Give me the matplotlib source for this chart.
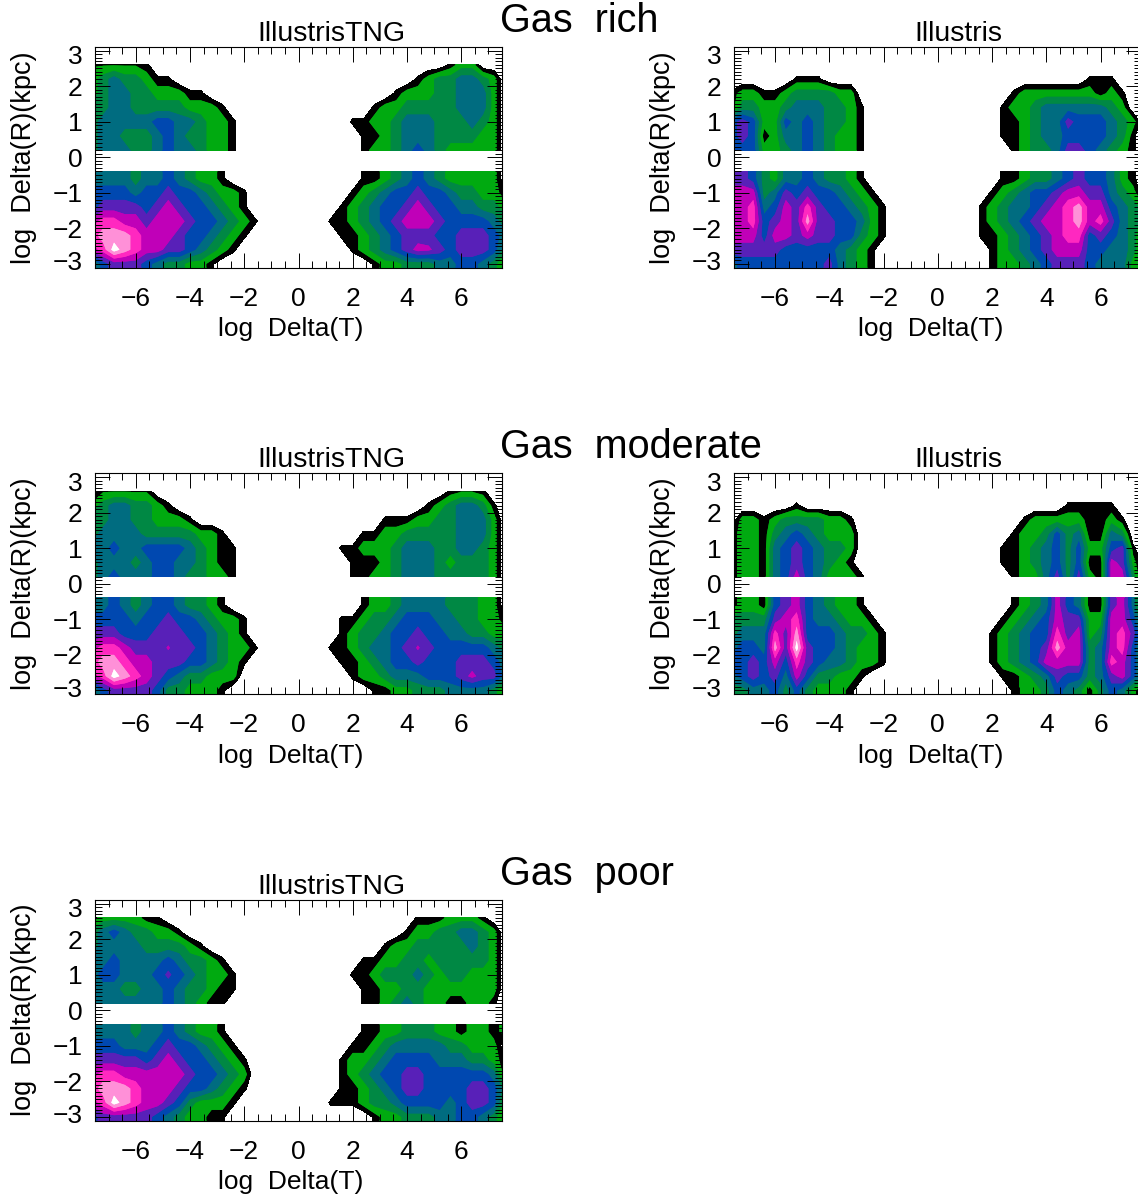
import numpy as np
import matplotlib
matplotlib.use("Agg")
import matplotlib.pyplot as plt
from matplotlib.ticker import MultipleLocator
from matplotlib.transforms import ScaledTranslation

# grid of the binned maps, values are contour band numbers
# 0 empty, 1 black, 2 green, 3 dark green, 4 teal, 5 blue, 6 purple, 7 magenta, 8 hot pink, 9 light pink, 10 white
dt_neg = [-7.6, -7.2, -6.8, -6.4, -6.0, -5.6, -5.2, -4.8, -4.4, -4.0, -3.6, -3.2, -2.8, -2.4, -2.0, -1.6, -1.2]
dt_pos = [1.2, 1.6, 2.0, 2.4, 2.8, 3.2, 3.6, 4.0, 4.4, 4.8, 5.2, 5.6, 6.0, 6.4, 6.8, 7.2, 7.6]
dr_top = [2.6, 2.2, 1.8, 1.4, 1.0, 0.6, 0.2]
dr_bot = [-0.6, -1.0, -1.4, -1.8, -2.2, -2.6, -3.0]

tng_rich_neg = [
    [1.4,1.4,1.4,1.4,1.4,1,0,0,0,0,0,0,0,0,0,0,0],
    [2,3,4,3,3,2,1,1,0,0,0,0,0,0,0,0,0],
    [2,3,4,4,3,3,2,2,2,1,1,0,0,0,0,0,0],
    [3,3,4,4,3,3,3,3,3,2,2,2,1,0,0,0,0],
    [3,4,4,4,4,4,5,5,4,4,3,2,2,1,0,0,0],
    [3,4,4,3,3,3,4,5,4,3,3,2,2,1,0,0,0],
    [3,4,4,4,3,3,4,5,4,4,3,2,2,1,0,0,0],
    [4,4,4,4,3,4,4,5,4,3,2,2,1,0,0,0,0],
    [5,5,5,5,4,5,5,6,5,5,4,3,2,2,1,0,0],
    [5,6,6,6,6,5,6,7,6,5,5,4,3,2,1,0,0],
    [7,8,8,7,7,6,7,7,7,6,5,5,4,3,2,1,0],
    [8,9,9,9,8,7,7,7,6,5,5,4,3,2,1,0,0],
    [7,8,10,9,8,7,7,6,6,5,4,3,2,1,0,0,0],
    [3,5,6,6,6,5,4,3,3,2,2,1,0,0,0,0,0],
]
tng_rich_pos = [
    [0,0,0,0,0,0,0,0,0,0,0,1,2,2,0,0,0],
    [0,0,0,0,0,0,0,0,1,2,3,3,4,4,3,2,0],
    [0,0,0,0,0,0,1,2,2,2,3,3,4,4,4,2,0],
    [0,0,0,0,1,2,2,3,3,3,3,3,4,4,4,2,0],
    [0,0,1,1,2,2,3,4,4,4,3,3,3,4,3,2,0],
    [0,0,0,1,1,2,3,4,4,4,3,3,3,3,2,2,0],
    [0,0,0,1,2,2,3,4,5,4,3,2,2,2,2,2,0],
    [0,0,0,1,1,2,3,4,5,4,3,2,2,2,2,2,0],
    [0,0,1,2,3,4,5,5,6,5,5,4,3,3,2,2,1],
    [0,1,2,3,4,5,5,6,7,6,5,5,4,4,3,3,2],
    [1,1,2,3,4,5,6,7,7,7,6,5,5,5,5,4,3],
    [0,1,1,2,3,4,5,6,6,6,5,5,6,6,6,5,4],
    [0,0,1,2,3,4,5,6,6.9,6.7,6,5,6,6,6,5,3],
    [0,0,0,0,1,2,2,3,3,3,4,4,5,5,4,3,1],
]

ill_rich_neg = [
    [0,0,0,0,0,0,0,0,0,0,0,0,0,0,0,0,0],
    [0,0,0,0,0,0,1,1,1,0,0,0,0,0,0,0,0],
    [1,2,2,1,1,2,3,3,3,3,2,2,0,0,0,0,0],
    [1,3,3,2,2,3,4,4,4,3,3,2,1,0,0,0,0],
    [5,6,5,2,2,5,4,5,4,3,3,2,1,0,0,0,0],
    [5,6,5,1,2,4,4,5,4,3,2,2,1,0,0,0,0],
    [5,5,5,2,2,3,4,5,4,3,2,2,1,0,0,0,0],
    [6,6,5,3,2,4,4,5,4,3,3,2,1,0,0,0,0],
    [7,7,7,3,4,6,5,6,5,5,4,3,2,1,0,0,0],
    [7,7,8,4,5,7,6,8,6,5,5,4,3,2,1,0,0],
    [7,7,8,5,6,7,6,9,6,6,5,5,4,2,1,0,0],
    [7,7,7,5,7,7,6,7,6,6,5,5,3,2,1,0,0],
    [6,6,6,6,6,5,5,5,5,5,4,3,2,1,0,0,0],
    [4,5,5,5,5,5,5,5,5,6,4,3,2,1,0,0,0],
]
ill_rich_pos = [
    [0,0,0,0,0,0,0,0,0,0,0,0,0,0,0,0,0],
    [0,0,0,0,0,0,0,0,0,0,0,1,1,1,0,0,0],
    [0,0,0,0,1,2,2,2,2,2,2,2,1,2,1,0,0],
    [0,0,0,1,2,2,3,4,4,4,4,4,4,3,2,0,0],
    [0,0,0,1,1,2,3,4,4,6,5,5,5,4,3,2,0],
    [0,0,0,1,1,2,3,4,4,5,5,5,5,4,3,1,0],
    [0,0,0,0,1,2,3,3,4,6,6,5,4,3,2,1,0],
    [0,0,0,1,1,2,3,3,4,5,6,5,5,4,2,1,0],
    [0,0,1,2,3,4,5,5,6,7,7,6,6,4,3,2,0],
    [0,1,2,3,4,4,5,6,7,8,9,7,7,5,4,3,2],
    [0,1,2,3,4,5,6,7,7,8,9,7,8,6,4,3,2],
    [0,1,1,2,3,4,5,6,7,8,8,5,6,5,4,3,1],
    [0,0,1,2,3,4,5,6,7,7,7,5,5,4,4,3,1],
    [0,0,1,2,2,3,4,5,6,6,6,5,4,4,4,2,1],
]

tng_mod_neg = [
    [0,1.4,1.4,1.4,1.4,1.4,0,0,0,0,0,0,0,0,0,0,0],
    [2,3,4,4,3,3,2,1,0,0,0,0,0,0,0,0,0],
    [3,3,4,4,3,3,2,2,2,1,0,0,0,0,0,0,0],
    [3,4,4,4,4,3,3,3,3,3,2,2,1,0,0,0,0],
    [4,4,5,4,4,5,5,5,5,4,3,2,1,1,0,0,0],
    [3,4,4,4,3,4,5,5,4,4,3,2,1,1,0,0,0],
    [3,4,5,4,4,4,5,5,4,3,3,2,2,1,0,0,0],
    [4,4,5,4,3,4,5,5,4,3,3,2,1,0,0,0,0],
    [5,5,5,5,4,5,5,6,5,5,4,3,2,2,1,0,0],
    [6,6,6,5,5,5,6,6,6,5,5,4,3,2,1,0,0],
    [7,8,8,7,6,6,6,6.6,6,6,5,4,3,2,2,1,0],
    [8,9,9,8,7,7,6,6,6,5,5,4,3,2,1,0,0],
    [7,8,10,9,8,7,6,5,4,3,3,2,2,2,0,0,0],
    [3,5,6,6,6,6,5,3,3,2,2,2,1,0,0,0,0],
]
tng_mod_pos = [
    [0,0,0,0,0,0,0,0,0,0,0,1,1.4,1.4,1,0,0],
    [0,0,0,0,0,0,0,0,0,1,2,3,4,4,3,1,0],
    [0,0,0,0,0,1,1,1,2,2,3,3,4,4,4,2,0],
    [0,0,0,1,1,2,2,3,3,3,3,3,4,4,4,2,0],
    [0,1,1,2,2,2,3,4,4,4,3,3,4,4,3,2,0],
    [0,0,1,1,1,2,3,4,4,4,3,2,3,3,3,2,0],
    [0,0,1,1,2,2,3,4,4,4,3,3,3,3,3,2,0],
    [0,0,0,1,2,2,3,4,4,4,4,3,3,3,2,2,0],
    [0,1,1,2,3,3,4,5,5,5,4,4,3,3,2,2,1],
    [0,1,2,3,3,4,5,5,6,5,5,4,4,3,3,2,2],
    [1,1,2,3,4,4,5,6,6.6,6,5,5,5,5,5,4,3],
    [0,1,1,2,3,4,5,5,6,5,5,5,6,6,6,5,4],
    [0,0,1,2,2,3,4,4,4,5,5,5,6,6.8,6,6,4],
    [0,0,0,0,1,1,2,2,3,3,3,4,4,4,4,3,1],
]

ill_mod_neg = [
    [0,0,0,0,0,0,0,0,0,0,0,0,0,0,0,0,0],
    [0,0,0,0,0,0,1,0,0,0,0,0,0,0,0,0,0],
    [0,2,2,1,2,3,3,3,3,2,2,1,0,0,0,0,0],
    [1,2,2,1,3,4,5,4,3,2,2,2,0,0,0,0,0],
    [1,2,2,1,4,5,6,5,4,3,3,2,0,0,0,0,0],
    [1,2,2,1,4,5,6,5,4,3,2,1,0,0,0,0,0],
    [1,2,2,1,4,5,7,5,4,2,2,2,1,0,0,0,0],
    [1,2,2,1,5,6,7,5,4,3,2,2,1,0,0,0,0],
    [3,3,3,3,6,7,8,5,4,4,3,2,2,1,0,0,0],
    [3,4,4,4,8,6,9,5,5,5,4,3,3,2,1,0,0],
    [4,5,5,4,9,6,10,6,5,5,4,3,2,2,1,0,0],
    [5,5,6,5,7,5,8,6,5,4,4,3,2,2,1,0,0],
    [4,5,6,5,6,4,7,5,3,3,2,2,1,0,0,0,0],
    [3,3,4,4,5,3,5,3,2,2,2,1,0,0,0,0,0],
]
ill_mod_pos = [
    [0,0,0,0,0,0,0,0,0,0,0,0,0,0,0,0,0],
    [0,0,0,0,0,0,0,0,0,1,1,1,1,1,0,0,0],
    [0,0,0,0,0,1,2,2,2,2,2,1,1,2,1,0,0],
    [0,0,0,0,1,2,2,3,5,3,4,1,1,4,3,0,0],
    [0,0,0,1,1,2,3,4,5,3,5,2,2,5,6,1,0],
    [0,0,0,1,1,2,3,4,5,3,5,1,1,7,6,2,0],
    [0,0,0,0,1,2,2,4,6,3,6,2,1,7,7,3,0],
    [0,0,0,0,1,2,3,4,7,5,4,1,1,6,7,4,1],
    [0,0,0,1,2,3,4,5,7,6,6,2,2,7,7,5,2],
    [0,0,1,2,3,4,5,5,8,6,7,2,3,7,8,6,3],
    [0,0,1,2,3,4,5,6,9,7,7,3,4,7,8,5,3],
    [0,0,1,2,3,4,5,7,7,7,7,3,4,8,7,5,3],
    [0,0,0,1,1,2,3,4,6,5,5,3,4,6,7,5,3],
    [0,0,0,0,1,2,2,3,5,4,3,1,3,5,4,2,0],
]

tng_poor_neg = [
    [1,2,2,2,2,1,1,0,0,0,0,0,0,0,0,0,0],
    [3,4,5,4,3,3,2,2,1,0,0,0,0,0,0,0,0],
    [3,4,4,4,4,3,3,3,3,2,1,0,0,0,0,0,0],
    [4,4,5,4,4,4,4,5,4,3,3,2,1,0,0,0,0],
    [4,5,5,4,4,4,5,5.7,5,4,3,2,2,1,0,0,0],
    [4,4,4,3,3,4,4,5,4,3,3,2,1,1,0,0,0],
    [4,4,4,4,4,4,4,5,4,3,2,1,1,0,0,0,0],
    [4,4,4,4,3,4,4,5,4,3,2,2,1,0,0,0,0],
    [5,5,5,4,4,4,5,6,5,5,4,3,2,1,0,0,0],
    [6,6,6,6,6,5,6,7,6,5,5,4,3,2,1,0,0],
    [7,8,8,7,7,7,7,7,7,6,5,5,4,3,2,0,0],
    [8,9,9,9,8,7,7,7,6,5,5,4,3,2,1,0,0],
    [7,8,10,9,8,7,7,6,5,3,2,2,2,1,0,0,0],
    [5,6,6,6,6,6,5,4,3,2,2,1,1,0,0,0,0],
]
tng_poor_pos = [
    [0,0,0,0,0,0,0,0,1,1,1,2,2,2,1,0,0],
    [0,0,0,0,0,0,0,1,2,2,3,3,4,4,3,2,0],
    [0,0,0,0,0,1,2,2,3,3,3,3,3,4,3,2,0],
    [0,0,0,1,1,2,2,3,3,2,3,3,3,3,3,2,0],
    [0,0,1,1,2,3,3,3,4,3,2,3,3,2,2,2,0],
    [0,0,0,1,1,2,2,3,3,2,2,2,2,2,2,2,0],
    [0,0,0,1,1,2,3,4,3,2,2,1,1,2,2,1,0],
    [0,0,0,1,1,2,2,3,3,3,2,2,1,2,2,1,2],
    [0,0,1,1,2,3,4,4,4,4,4,3,3,2,2,2,0],
    [0,1,2,2,3,4,5,5,5,5,4,4,4,3,3,2,1],
    [0,1,2,3,4,5,5,6,6,5,5,5,5,5,5,4,1],
    [0,1,1,2,3,4,5,6,6,5,5,5,5,6,6,5,3],
    [1,1,1,2,3,3,4,5,5,5,5,4,5,6,6,5,2],
    [0,0,0,0,1,2,2,3,3,3,4,4,5,5,4,3,1],
]

band_colors = ["#000000", "#00aa10", "#008844", "#006c80", "#0048b0", "#5820b8",
               "#c000b8", "#ff28c0", "#ff90d8", "#ffffff"]
band_levels = [0.8, 1.5, 2.5, 3.5, 4.5, 5.5, 6.5, 7.5, 8.5, 9.5, 11]

W, H = 1138, 1196
plt.rcParams["font.family"] = "Liberation Sans"
fig = plt.figure(figsize=(W / 100, H / 100), dpi=100)


def draw_panel(left_px, top_px, title, title_x, neg, pos):
    ax = fig.add_axes([left_px / W, 1 - (top_px + 220.5) / H, 407 / W, 220.5 / H])
    x = np.array(dt_neg + [-0.8, 0.8] + dt_pos)
    neg = np.array(neg, dtype=float)
    pos = np.array(pos, dtype=float)
    z = np.hstack([neg, np.zeros((14, 2)), pos])
    # top half stops at 0.2, bottom half starts at -0.4, first and last rows run to the edges
    y_bot = [-0.4] + dr_bot + [-3.1]
    z_bot = np.vstack([z[7], z[7:], z[13]])
    # plain fill under the smooth one, so no light seams show between the bands
    for aa in (False, True):
        ax.contourf(x, dr_top, z[:7], levels=band_levels, colors=band_colors, antialiased=aa)
        ax.contourf(x, y_bot, z_bot, levels=band_levels, colors=band_colors, antialiased=aa)

    ax.set_xlim(-7.5, 7.5)
    ax.set_ylim(-3.1, 3.1)
    ax.xaxis.set_major_locator(MultipleLocator(2))
    ax.xaxis.set_minor_locator(MultipleLocator(0.5))
    ax.yaxis.set_major_locator(MultipleLocator(1))
    ax.yaxis.set_minor_locator(MultipleLocator(0.1))
    ax.tick_params(which="major", direction="in", top=True, right=True, length=11, width=0.7,
                   labelsize=19, pad=14)
    ax.tick_params(which="minor", direction="in", top=True, right=True, length=5, width=0.7)
    ax.tick_params(axis="y", which="major", pad=9)
    for s in ax.spines.values():
        s.set_linewidth(0.8)
    ax.set_axisbelow(False)
    ax.set_xlabel("log  Delta(T)", fontsize=19, x=0.482, labelpad=4.5)
    ax.set_ylabel("log  Delta(R)(kpc)", fontsize=19.5, labelpad=11)
    ax.set_title(title, fontsize=20.5, pad=2, x=title_x)
    # the end labels of the y axis sit a little inside the tick
    fig.canvas.draw()
    for tick in ax.yaxis.get_major_ticks():
        if abs(tick.get_loc()) == 3:
            dy = -4 if tick.get_loc() > 0 else 3
            tick.label1.set_transform(tick.label1.get_transform()
                                      + ScaledTranslation(0, dy / 100, fig.dpi_scale_trans))
    return ax


draw_panel(95, 47, "IllustrisTNG", 0.582, tng_rich_neg, tng_rich_pos)
draw_panel(734.3, 47, "Illustris", 0.55, ill_rich_neg, ill_rich_pos)
draw_panel(95, 473.5, "IllustrisTNG", 0.582, tng_mod_neg, tng_mod_pos)
draw_panel(734.3, 473.5, "Illustris", 0.55, ill_mod_neg, ill_mod_pos)
draw_panel(95, 900, "IllustrisTNG", 0.582, tng_poor_neg, tng_poor_pos)

fig.text(500 / W, 1 - 21 / H, "Gas  rich", fontsize=28.5, va="center", ha="left")
fig.text(500 / W, 1 - 447 / H, "Gas  moderate", fontsize=28.5, va="center", ha="left")
fig.text(500 / W, 1 - 874 / H, "Gas  poor", fontsize=28.5, va="center", ha="left")

fig.savefig("out.png", dpi=100)
